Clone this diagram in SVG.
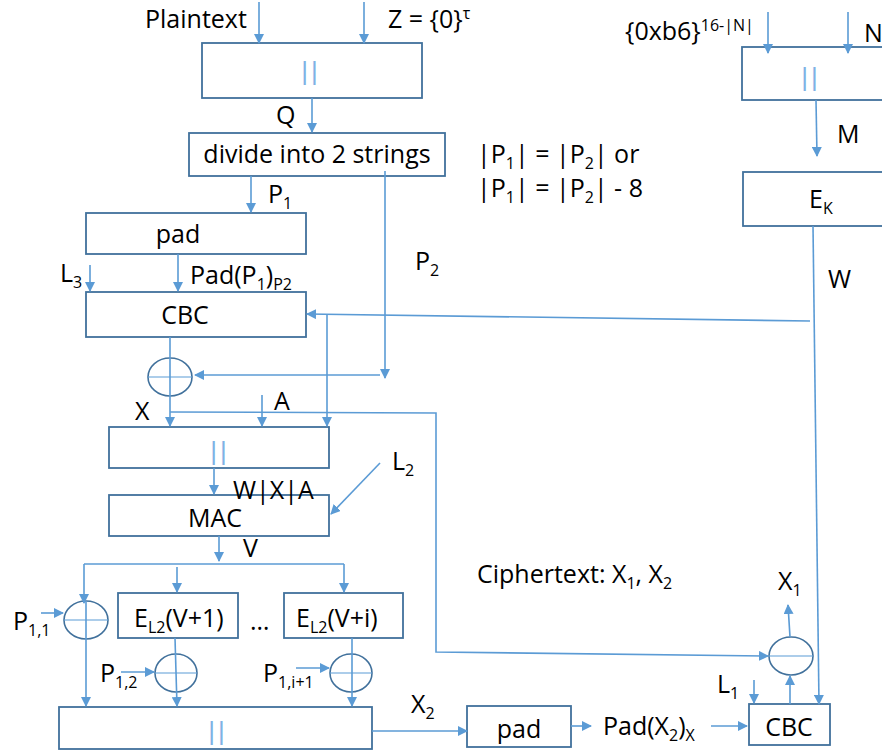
<svg xmlns="http://www.w3.org/2000/svg" width="882" height="755" viewBox="0 0 882 755">
<defs>
<marker id="ah" viewBox="0 0 10 10" refX="9" refY="5" markerWidth="10" markerHeight="10" markerUnits="userSpaceOnUse" orient="auto">
<path d="M0,0 L10,5 L0,10 z" fill="#5B9BD5"/>
</marker>
<style>
.box{fill:#fff;stroke:#41719C;stroke-width:1.8}
.xor{fill:none;stroke:#41719C;stroke-width:1.6}
.xl{stroke:#5B9BD5;stroke-width:1.2}
.c{fill:none;stroke:#5B9BD5;stroke-width:1.6}
.a{marker-end:url(#ah)}
text{font-family:"Open Sans","Liberation Sans",sans-serif;font-size:25px;fill:#000}
.s{font-size:16px}
.bar{fill:#7FB2E5;font-family:"Liberation Sans",sans-serif;font-size:26px;letter-spacing:3px}
.m{text-anchor:middle}
</style>
</defs>
<rect width="882" height="755" fill="#fff"/>

<g id="concat1"><rect class="box" x="202" y="43" width="220" height="55"/><text class="bar m" x="311" y="80">||</text></g>
<g id="divide"><rect class="box" x="189" y="133" width="256" height="43"/><text class="m" x="317" y="163">divide into 2 strings</text></g>
<g id="pad1"><rect class="box" x="86" y="213" width="220" height="41"/><text class="m" x="178" y="243">pad</text></g>
<g id="cbc1"><rect class="box" x="86" y="292" width="220" height="45"/><text class="m" x="185" y="324">CBC</text></g>
<g id="xorA"><ellipse class="xor" cx="170" cy="377" rx="22" ry="19"/><line class="xl" x1="148" y1="377" x2="192" y2="377"/></g>
<g id="concat2"><rect class="box" x="109" y="427" width="220" height="41"/><text class="bar m" x="220" y="460">||</text></g>
<g id="mac"><rect class="box" x="109" y="495" width="220" height="41"/><text class="m" x="215" y="527">MAC</text></g>
<g id="xor1"><ellipse class="xor" cx="86" cy="620" rx="22" ry="19"/><line class="xl" x1="64" y1="620" x2="108" y2="620"/></g>
<g id="e1"><rect class="box" x="118" y="593" width="120" height="45"/><text x="134" y="627">E<tspan class="s" dy="6">L2</tspan><tspan dy="-6">(V+1)</tspan></text></g>
<g id="ei"><rect class="box" x="284" y="593" width="119" height="45"/><text x="296" y="627">E<tspan class="s" dy="6">L2</tspan><tspan dy="-6">(V+i)</tspan></text></g>
<g id="xor2"><ellipse class="xor" cx="176" cy="673" rx="21" ry="19"/><line class="xl" x1="155" y1="673" x2="197" y2="673"/></g>
<g id="xor3"><ellipse class="xor" cx="351" cy="673" rx="21" ry="19"/><line class="xl" x1="330" y1="673" x2="372" y2="673"/></g>
<g id="concat3"><rect class="box" x="59" y="707" width="313" height="42"/><text class="bar m" x="218" y="740">||</text></g>
<g id="pad2"><rect class="box" x="467" y="706" width="104" height="41"/><text class="m" x="519" y="738">pad</text></g>
<g id="cbc2"><rect class="box" x="749" y="704" width="81" height="41"/><text class="m" x="789" y="736">CBC</text></g>
<g id="xorB"><ellipse class="xor" cx="791" cy="656" rx="22" ry="19"/><line class="xl" x1="769" y1="656" x2="813" y2="656"/></g>
<g id="concatN"><rect class="box" x="742" y="47" width="200" height="53"/><text class="bar m" x="811" y="86">||</text></g>
<g id="ek"><rect class="box" x="743" y="172" width="200" height="54"/><text x="809" y="208">E<tspan class="s" dy="6">K</tspan></text></g>

<g id="connectors">
<line class="c a" x1="259" y1="2" x2="259" y2="43"/>
<line class="c a" x1="364" y1="2" x2="364" y2="43"/>
<line class="c a" x1="312" y1="98" x2="312" y2="132"/>
<line class="c a" x1="251" y1="176" x2="251" y2="212"/>
<line class="c a" x1="178" y1="254" x2="178" y2="291"/>
<line class="c a" x1="90" y1="265" x2="90" y2="291"/>
<line class="c a" x1="385" y1="171" x2="385" y2="378"/>
<line class="c a" x1="380" y1="375" x2="195" y2="375"/>
<polyline class="c a" points="813,226 819,704"/>
<line class="c a" x1="810" y1="321" x2="307" y2="314"/>
<line class="c a" x1="327" y1="315" x2="327" y2="426"/>
<line class="c a" x1="170" y1="337" x2="170" y2="426"/>
<polyline class="c a" points="170,412 436,413 436,652 768,656"/>
<line class="c a" x1="262" y1="395" x2="262" y2="426"/>
<line class="c a" x1="214" y1="468" x2="214" y2="494"/>
<line class="c a" x1="380" y1="463" x2="331" y2="514"/>
<line class="c a" x1="219" y1="536" x2="219" y2="561"/>
<line class="c" x1="84" y1="564" x2="344" y2="564"/>
<line class="c a" x1="84" y1="564" x2="84" y2="603"/>
<line class="c a" x1="177" y1="567" x2="177" y2="592"/>
<line class="c a" x1="344" y1="564" x2="344" y2="592"/>
<line class="c a" x1="86" y1="601" x2="86" y2="706"/>
<line class="c a" x1="41" y1="613" x2="63" y2="613"/>
<line class="c a" x1="175" y1="638" x2="177" y2="706"/>
<line class="c a" x1="121" y1="672" x2="154" y2="672"/>
<line class="c a" x1="352" y1="638" x2="352" y2="706"/>
<line class="c a" x1="296" y1="668" x2="329" y2="668"/>
<line class="c a" x1="372" y1="731" x2="467" y2="731"/>
<line class="c a" x1="571" y1="726" x2="591" y2="726"/>
<line class="c a" x1="711" y1="726" x2="747" y2="726"/>
<line class="c a" x1="754" y1="680" x2="754" y2="703"/>
<line class="c a" x1="790" y1="704" x2="790" y2="676"/>
<line class="c a" x1="790" y1="637" x2="788" y2="605"/>
<line class="c a" x1="816" y1="100" x2="817" y2="156"/>
<line class="c a" x1="768" y1="12" x2="768" y2="53"/>
<line class="c a" x1="848" y1="12" x2="848" y2="53"/>
</g>

<g id="labels">
<text x="145" y="28">Plaintext</text>
<text x="388" y="28">Z = {0}<tspan class="s" dy="-9">τ</tspan></text>
<text x="276" y="124">Q</text>
<text x="477" y="163">|P<tspan class="s" dy="6">1</tspan><tspan dy="-6">| = |P</tspan><tspan class="s" dy="6">2</tspan><tspan dy="-6">| or</tspan></text>
<text x="477" y="197">|P<tspan class="s" dy="6">1</tspan><tspan dy="-6">| = |P</tspan><tspan class="s" dy="6">2</tspan><tspan dy="-6">| - 8</tspan></text>
<text x="268" y="203">P<tspan class="s" dy="6">1</tspan></text>
<text x="60" y="282">L<tspan class="s" dy="6">3</tspan></text>
<text x="190" y="284">Pad(P<tspan class="s" dy="6">1</tspan><tspan dy="-6">)</tspan><tspan class="s" dy="6">P2</tspan></text>
<text x="415" y="270">P<tspan class="s" dy="6">2</tspan></text>
<text x="828" y="288">W</text>
<text x="135" y="420">X</text>
<text x="274" y="410">A</text>
<text x="233" y="499">W|X|A</text>
<text x="392" y="470">L<tspan class="s" dy="6">2</tspan></text>
<text x="243" y="557">V</text>
<text x="13" y="630">P<tspan class="s" dy="6">1,1</tspan></text>
<text x="250" y="630">…</text>
<text x="100" y="682">P<tspan class="s" dy="6">1,2</tspan></text>
<text x="263" y="682">P<tspan class="s" dy="6">1,i+1</tspan></text>
<text x="411" y="713">X<tspan class="s" dy="6">2</tspan></text>
<text x="477" y="583">Ciphertext: X<tspan class="s" dy="6">1</tspan><tspan dy="-6">, X</tspan><tspan class="s" dy="6">2</tspan></text>
<text x="778" y="590">X<tspan class="s" dy="6">1</tspan></text>
<text x="603" y="735">Pad(X<tspan class="s" dy="6">2</tspan><tspan dy="-6">)</tspan><tspan class="s" dy="6">X</tspan></text>
<text x="717" y="693">L<tspan class="s" dy="6">1</tspan></text>
<text x="625" y="40">{0xb6}<tspan class="s" dy="-9">16-|N|</tspan></text>
<text x="864" y="42">N</text>
<text x="837" y="143">M</text>
</g>
</svg>
